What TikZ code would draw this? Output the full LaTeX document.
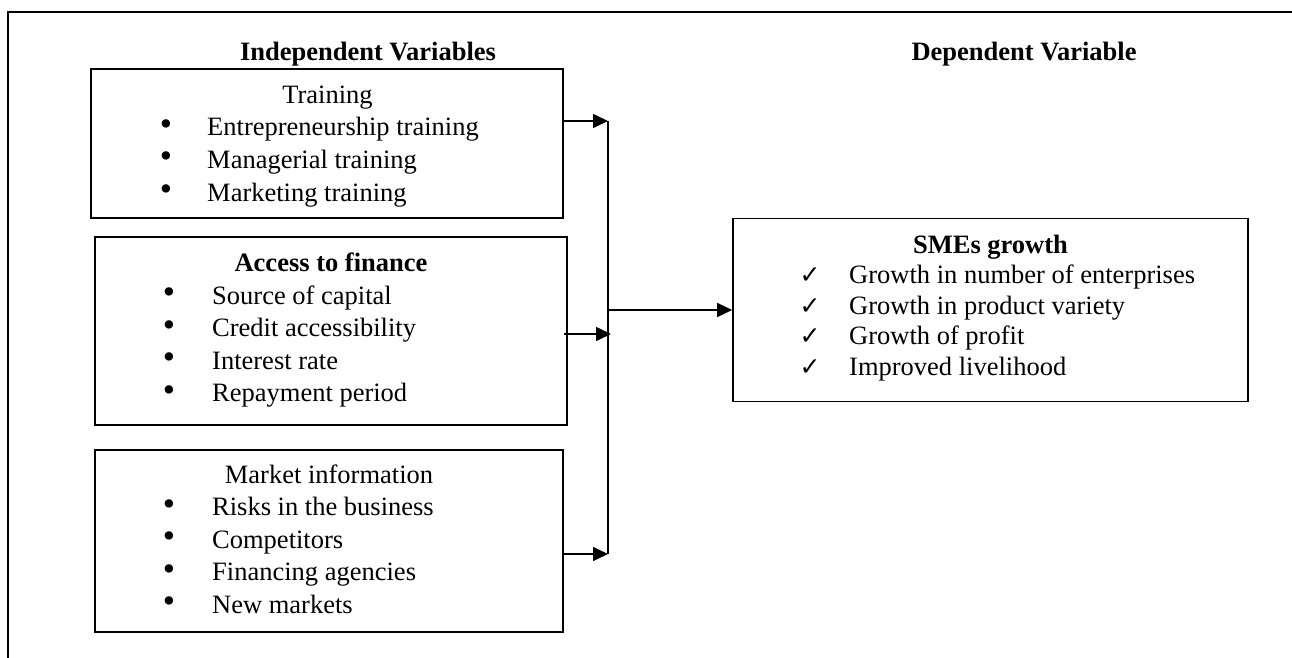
\documentclass[tikz,border=0pt]{standalone}
\usepackage{fontspec}
\setmainfont{Liberation Serif}
\newfontfamily\tickfont{DejaVu Sans}
\usetikzlibrary{arrows.meta}

\begin{document}
\begin{tikzpicture}[x=1pt,y=-1pt,
  box/.style={draw, rectangle, line width=1.7pt, inner sep=0pt},
  item/.style={inner sep=0pt, anchor=base west, font=\fontsize{26.5}{30}\selectfont},
  head/.style={inner sep=0pt, anchor=base, font=\fontsize{26.5}{30}\selectfont},
  boldhead/.style={inner sep=0pt, anchor=base, font=\fontsize{26.5}{30}\selectfont\bfseries},
  dotmark/.style={inner sep=0pt, anchor=center, font=\fontsize{35}{35}\selectfont},
  tickmark/.style={inner sep=0pt, anchor=center, font=\tickfont\fontsize{25}{26}\selectfont},
  link/.style={line width=1.6pt, -{Triangle[length=15pt,width=14pt]}},
  plain/.style={line width=1.6pt}]

\useasboundingbox (0,0) rectangle (1292,658);

% outer frame (top and left edges)
\draw[line width=1.7pt] (1292,12) -- (8,12) -- (8,658);

% column titles
\node[boldhead] (indep) at (368,60.5) {Independent Variables};
\node[boldhead] (dep) at (1024,61) {Dependent Variable};

% boxes
\node[box, minimum width=472pt, minimum height=149pt] (train)   at (327,143.5) {};
\node[box, minimum width=472pt, minimum height=188pt] (finance) at (331,331) {};
\node[box, minimum width=468pt, minimum height=182pt] (market)  at (329,541) {};
\node[box, minimum width=515pt, minimum height=183pt] (smes)    at (990.5,310) {};

% Training
\node[head] (trh) at (327.5,103) {Training};
\foreach \t [count=\i] in {Entrepreneurship training, Managerial training, Marketing training}{
  \node[dotmark] (trb\i) at (166,{103+32.8*\i-8.5}) {\textbullet};
  \node[item] (tri\i) at (207,{103+32.8*\i}) {\t};
}

% Access to finance
\node[boldhead] (fih) at (331,271.7) {Access to finance};
\foreach \t [count=\i] in {Source of capital, Credit accessibility, Interest rate, Repayment period}{
  \node[dotmark] (fib\i) at (169,{271.7+32.5*\i-8.5}) {\textbullet};
  \node[item] (fii\i) at (212,{271.7+32.5*\i}) {\t};
}

% Market information
\node[head] (mah) at (329,483.3) {Market information};
\foreach \t [count=\i] in {Risks in the business, Competitors, Financing agencies, New markets}{
  \node[dotmark] (mab\i) at (169,{483.3+32.5*\i-8.5}) {\textbullet};
  \node[item] (mai\i) at (212,{483.3+32.5*\i}) {\t};
}

% SMEs growth
\node[boldhead] (smh) at (990.5,253.3) {SMEs growth};
\foreach \t [count=\i] in {Growth in number of enterprises, Growth in product variety, Growth of profit, Improved livelihood}{
  \node[tickmark] (smb\i) at (810,{253.3+30.5*\i-8}) {✓};
  \node[item] (smi\i) at (849,{253.3+30.5*\i}) {\t};
}

% collecting line
\coordinate (busTop) at (608,121);
\coordinate (busMid) at (608,334);
\coordinate (busBot) at (608,554);

\draw[plain] (busTop) -- (busBot);
\draw[link] (train.east |- busTop) -- (busTop);
\draw[link] ([xshift=-4pt]finance.east |- busMid) -- ([xshift=3pt]busMid);
\draw[link] (market.east |- busBot) -- (busBot);
\draw[link] (busTop |- smes.west) -- (smes.west);

\end{tikzpicture}
\end{document}
